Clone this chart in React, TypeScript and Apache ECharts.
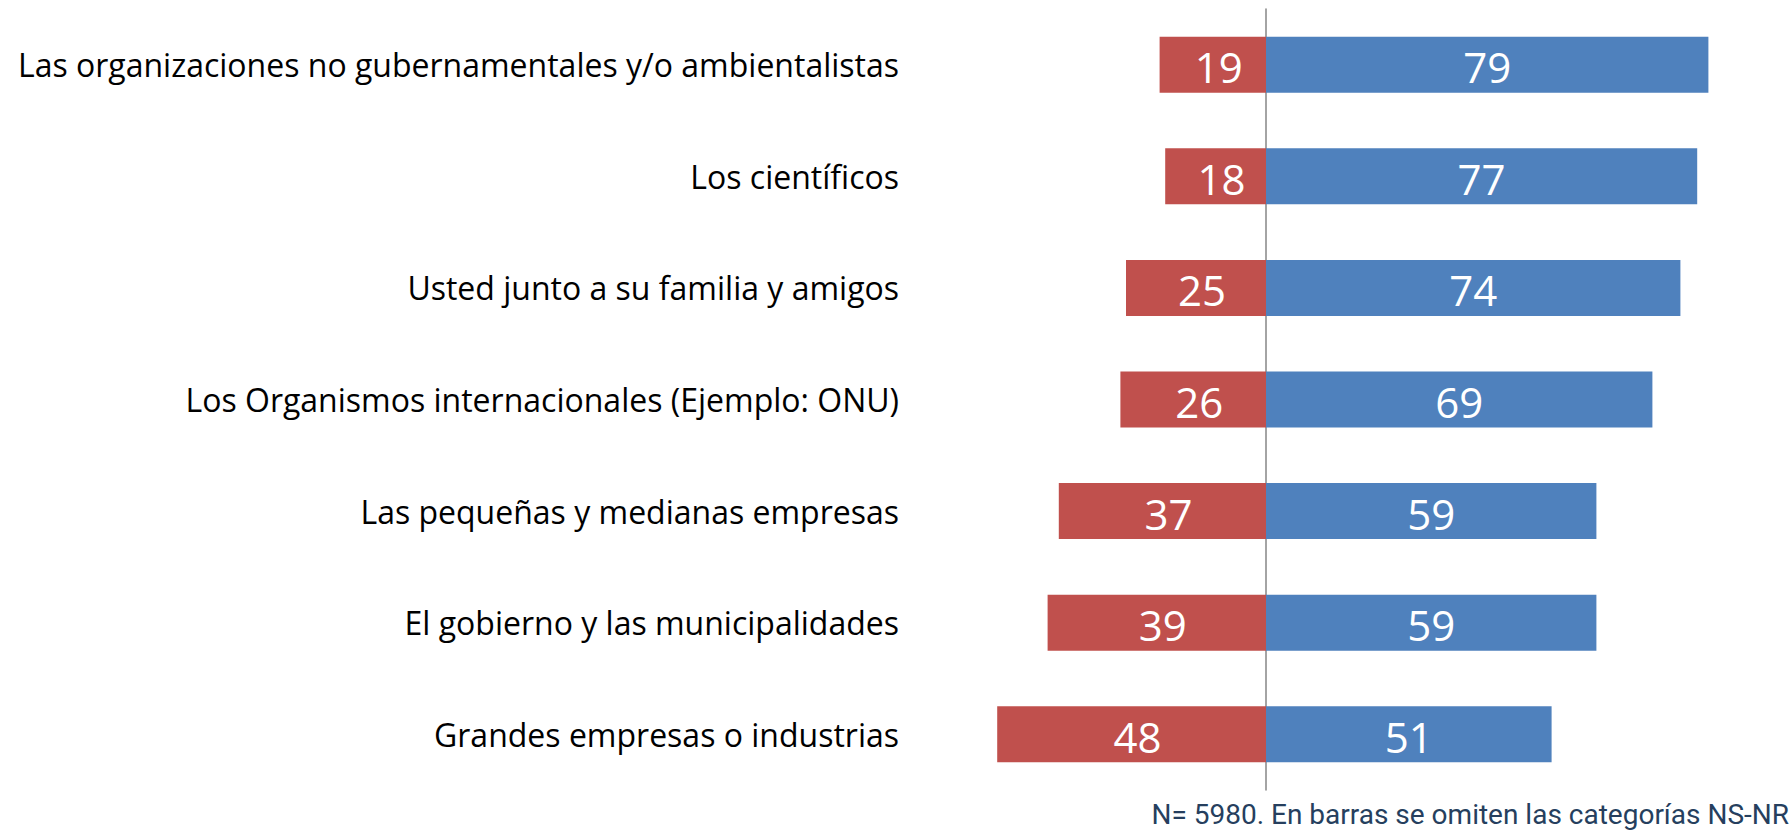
import React, { useEffect, useRef } from "react";
import * as echarts from "echarts";

const categories = [
  "Las organizaciones no gubernamentales y/o ambientalistas",
  "Los científicos",
  "Usted junto a su familia y amigos",
  "Los Organismos internacionales (Ejemplo: ONU)",
  "Las pequeñas y medianas empresas",
  "El gobierno y las municipalidades",
  "Grandes empresas o industrias",
];
const redValues = [19, 18, 25, 26, 37, 39, 48];
const blueValues = [79, 77, 74, 69, 59, 59, 51];
const footnote = "N= 5980. En barras se omiten las categorías NS-NR";

export default function App() {
  const ref = useRef<HTMLDivElement>(null);
  useEffect(() => {
    if (!ref.current) return;
    const chart = echarts.init(ref.current, null, { renderer: "svg" });
    chart.setOption({
      animation: false,
      grid: { left: 986, right: 22, top: 9, bottom: 43, containLabel: false },
      xAxis: {
        type: "value",
        min: -50,
        max: 90,
        show: false,
      },
      yAxis: [
        {
          type: "category",
          data: categories,
          inverse: true,
          axisLine: { show: true, onZero: true, lineStyle: { color: "#868686", width: 1.5 } },
          axisTick: { show: false },
          axisLabel: { show: false },
          splitLine: { show: false },
        },
        {
          type: "category",
          data: categories,
          inverse: true,
          position: "left",
          axisLine: { show: false, onZero: false },
          axisTick: { show: false },
          splitLine: { show: false },
          axisLabel: {
            margin: 87,
            color: "#000",
            fontFamily: "Open Sans",
            fontSize: 32,
          },
        },
      ],
      series: [
        {
          type: "bar",
          stack: "s",
          yAxisIndex: 0,
          barWidth: 56,
          data: redValues.map((v) => -v),
          itemStyle: { color: "#C0504D" },
          label: {
            show: true,
            position: "inside",
            color: "#fff",
            fontFamily: "Open Sans",
            fontSize: 42,
            offset: [6, 2],
            formatter: (p: any) => String(Math.abs(p.value)),
          },
        },
        {
          type: "bar",
          stack: "s",
          yAxisIndex: 0,
          barWidth: 56,
          data: blueValues,
          itemStyle: { color: "#4F81BD" },
          label: {
            show: true,
            position: "inside",
            color: "#fff",
            fontFamily: "Open Sans",
            fontSize: 42,
            offset: [0, 2],
          },
        },
      ],
      graphic: [
        {
          type: "text",
          x: 1789,
          y: 814,
          style: {
            text: footnote,
            fill: "#263F5E",
            fontFamily: "Roboto",
            fontSize: 28,
            textAlign: "right",
            textVerticalAlign: "middle",
          },
        },
      ],
    });
    return () => chart.dispose();
  }, []);
  return (
    <div
      ref={ref}
      style={{ position: "absolute", left: 0, top: 0, width: 1792, height: 833 }}
    />
  );
}
